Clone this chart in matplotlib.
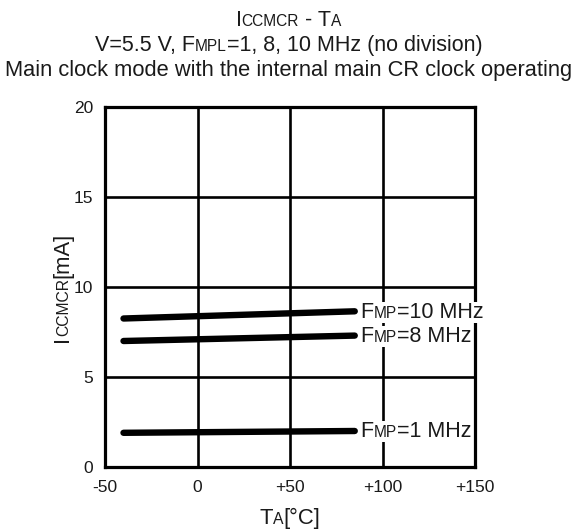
import matplotlib
matplotlib.use("Agg")
from matplotlib import pyplot as plt
from matplotlib.patches import Rectangle

plt.rcParams["font.family"] = ["Liberation Sans", "DejaVu Sans"]

# data (current in mA at Ta = -40 and +85 degC)
temp = [-40, 85]
icc_10mhz = [8.25, 8.65]
icc_8mhz = [7.0, 7.3]
icc_1mhz = [1.9, 2.0]
series = [
    (icc_10mhz, "10 MHz"),
    (icc_8mhz, "8 MHz"),
    (icc_1mhz, "1 MHz"),
]

xticks = [-50, 0, 50, 100, 150]
xticklabels = ["-50", "0", "+50", "+100", "+150"]
yticks = [0, 5, 10, 15, 20]

SMALL = 0.72  # size of the small-caps subscripts

fig = plt.figure(figsize=(5.77, 5.29), dpi=100)
ax = fig.add_axes([105 / 577, 62 / 529, 370 / 577, 360 / 529])


def mixed_text(xy, pieces, size, coords, rotation=0):
    '''
    Write a string made of normal and small-caps pieces, chained one after another.
    '''
    texts = []
    prev = None
    for s, small in pieces:
        fs = size * SMALL if small else size
        kw = dict(fontsize=fs, ha="left", va="baseline", rotation=rotation,
                  rotation_mode="anchor", annotation_clip=False, zorder=4,
                  color="#1a1a1a")
        if prev is None:
            t = ax.annotate(s, xy, xycoords=coords, **kw)
        elif rotation == 90:
            t = ax.annotate(s, (xy[0], 1), xycoords=(coords, prev), **kw)
        else:
            t = ax.annotate(s, (1, xy[1]), xycoords=(prev, coords), **kw)
        texts.append(t)
        prev = t
    return texts


def extent(texts, renderer):
    boxes = [t.get_window_extent(renderer) for t in texts]
    x0 = min(b.x0 for b in boxes)
    x1 = max(b.x1 for b in boxes)
    y0 = min(b.y0 for b in boxes)
    y1 = max(b.y1 for b in boxes)
    return x0, y0, x1, y1


def shift(t, dx, dy):
    x, y = t.xyann
    t.xyann = (x + dx, y + dy)
    t.xy = (x + dx, y + dy)


# curves
for values, name in series:
    ax.plot(temp, values, color="black", linewidth=4.6, solid_capstyle="round", zorder=2)

ax.set_xlim(-50, 150)
ax.set_ylim(0, 20)
ax.set_xticks(xticks)
ax.set_xticklabels(xticklabels)
ax.set_yticks(yticks)
ax.tick_params(length=0, labelsize=12.5, labelcolor="#1a1a1a")
ax.tick_params(axis="x", pad=9)
ax.tick_params(axis="y", pad=8.5)
ax.grid(color="black", linewidth=1.9)
ax.set_axisbelow(True)
for sp in ax.spines.values():
    sp.set_linewidth(2.3)

# titles and axis labels
W, H = 577, 529
centered = []
centered.append(mixed_text((0.5, 1 - 25.5 / H),
                           [("I", False), ("CCMCR", True), (" - T", False), ("A", True)],
                           15.5, "figure fraction"))
centered.append(mixed_text((0.5, 1 - 51 / H),
                           [("V=5.5 V, F", False), ("MPL", True),
                            ("=1, 8, 10 MHz (no division)", False)],
                           15.5, "figure fraction"))
centered.append(mixed_text((0.5, 1 - 76.5 / H),
                           [("Main clock mode with the internal main CR clock operating", False)],
                           15.75, "figure fraction"))
centered.append(mixed_text((290 / W, 1 - 524 / H),
                           [("T", False), ("A", True), ("[°C]", False)],
                           15.8, "figure fraction"))
ylabel = mixed_text((68 / W, 0.5),
                    [("I", False), ("CCMCR", True), ("[mA]", False)],
                    15.8, "figure fraction", rotation=90)

# curve labels, baseline put so the capitals sit on the curve end
labels = []
for values, name in series:
    labels.append(mixed_text((88, values[1] - 0.36),
                             [("F", False), ("MP", True), ("=" + name, False)],
                             15.5, "data"))

# centre the chained texts now that their sizes are known
fig.canvas.draw()
r = fig.canvas.get_renderer()
for texts, cx in zip(centered, [W / 2, W / 2, W / 2, 290]):
    x0, y0, x1, y1 = extent(texts, r)
    shift(texts[0], (cx - (x0 + x1) / 2) / W, 0)
x0, y0, x1, y1 = extent(ylabel, r)
shift(ylabel[0], 0, ((H - 287) - (y0 + y1) / 2) / H)

# white boxes behind the curve labels
fig.canvas.draw()
inv = ax.transData.inverted()
for texts in labels:
    x0, y0, x1, y1 = extent(texts, r)
    (dx0, dy0), (dx1, dy1) = inv.transform([(x0 - 1, y0), (x1 + 1, y1)])
    ax.add_patch(Rectangle((dx0, dy0), dx1 - dx0, dy1 - dy0, facecolor="white",
                           edgecolor="none", zorder=3, clip_on=False))

fig.savefig("out.png", dpi=100)
